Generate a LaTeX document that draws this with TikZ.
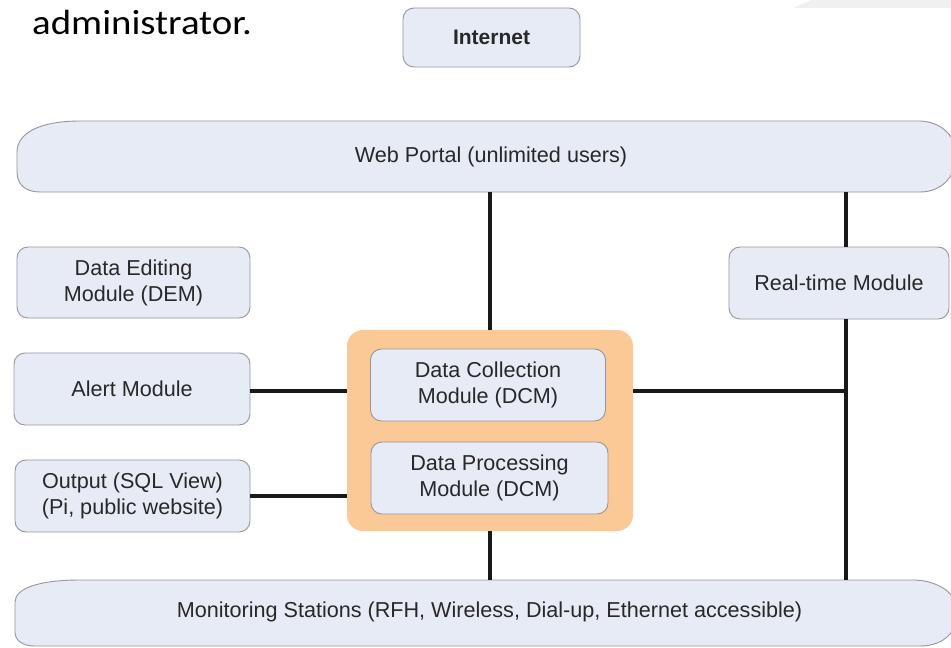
\documentclass[tikz,border=0pt]{standalone}
\usepackage{fontspec}
\setmainfont{Liberation Sans}
\newfontfamily\calfont{Carlito}
\definecolor{boxfill}{RGB}{231,235,246}
\definecolor{boxline}{RGB}{150,150,155}
\definecolor{peach}{RGB}{251,201,150}
\definecolor{txt}{RGB}{40,40,40}
\definecolor{wire}{RGB}{25,25,25}
\definecolor{faint}{RGB}{240,240,240}
\tikzset{
  modbox/.style={draw=boxline, line width=0.9pt, fill=boxfill, rounded corners=11pt,
    text=txt, align=center, inner sep=0pt, font=\fontsize{21.6}{26}\selectfont},
  bustext/.style={text=txt, inner sep=0pt, font=\fontsize{21.6}{26}\selectfont},
  busshape/.style={draw=boxline, line width=0.9pt, fill=boxfill},
  wireline/.style={draw=wire, line width=4pt},
  groupbox/.style={fill=peach, rounded corners=16pt, inner sep=0pt}
}
\begin{document}
\begin{tikzpicture}[x=1pt,y=-1pt]
\useasboundingbox (0,0) rectangle (951,648);
\clip (0,0) rectangle (951,648);
\fill[white] (0,0) rectangle (951,648);
% faint slide decoration top right
\fill[faint] (793,8) -- (812,0) -- (951,0) -- (951,8) -- cycle;
% heading fragment
\node[anchor=base west, inner sep=0pt, xscale=1.11, font=\calfont\fontsize{35}{42}\selectfont, text=black] (admin) at (32,34) {administrator.};
% Internet
\node[modbox, minimum width=177pt, minimum height=59pt, font=\bfseries\fontsize{21}{25}\selectfont] (inet) at (491.5,37.5) {Internet};
% Web portal bus
\path[busshape] (80,121) -- (920,121) .. controls (942,122) and (956,136) .. (956,156) .. controls (956,176) and (942,192) .. (920,192) -- (40,192) .. controls (25,192) and (17,184) .. (17,172) -- (17,152) .. controls (17,133) and (40,121) .. (80,121) -- cycle;
\node[bustext] (web) at (491,156.5) {Web Portal (unlimited users)};
\coordinate (webbot) at (491,192);
% Monitoring bus
\path[busshape] (80,580) -- (915,580) .. controls (940,581) and (958,595) .. (958,612) .. controls (958,630) and (945,646) .. (920,646) -- (35,646) .. controls (22,646) and (15,640) .. (15,632) -- (15,602) .. controls (15,588) and (40,580) .. (80,580) -- cycle;
\node[bustext] (mon) at (489.5,612) {Monitoring Stations (RFH, Wireless, Dial-up, Ethernet accessible)};
\coordinate (montop) at (489.5,580);
% left modules
\node[modbox, minimum width=233pt, minimum height=71pt] (dem) at (133.5,282.5) {Data Editing\\Module (DEM)};
\node[modbox, minimum width=236pt, minimum height=72pt] (alert) at (132,389) {Alert Module};
\node[modbox, minimum width=235pt, minimum height=72pt] (out) at (132.5,496) {Output (SQL View)\\(Pi, public website)};
% real-time
\node[modbox, minimum width=220pt, minimum height=72pt] (rt) at (839,283) {Real-time Module};
% central group
\node[groupbox, minimum width=286pt, minimum height=201pt] (grp) at (490,430.5) {};
\node[modbox, minimum width=235pt, minimum height=72pt] (dcm) at (488,385) {Data Collection\\Module (DCM)};
\node[modbox, minimum width=237pt, minimum height=72pt] (dpm) at (489.5,478) {Data Processing\\Module (DCM)};
% bus line on right
\coordinate (busx) at (846,391);
% connectors
\draw[wireline] (grp.north) -- (grp.north |- webbot);
\draw[wireline] (grp.south) -- (grp.south |- montop);
\draw[wireline] (webbot -| busx) -- (rt.north -| busx);
\draw[wireline] (rt.south -| busx) -- (montop -| busx);
\draw[wireline] (grp.east |- busx) -- (busx);
\draw[wireline] (alert.east |- busx) -- (grp.west |- busx);
\draw[wireline] (out.east) -- (out.east -| grp.west);
\end{tikzpicture}
\end{document}
